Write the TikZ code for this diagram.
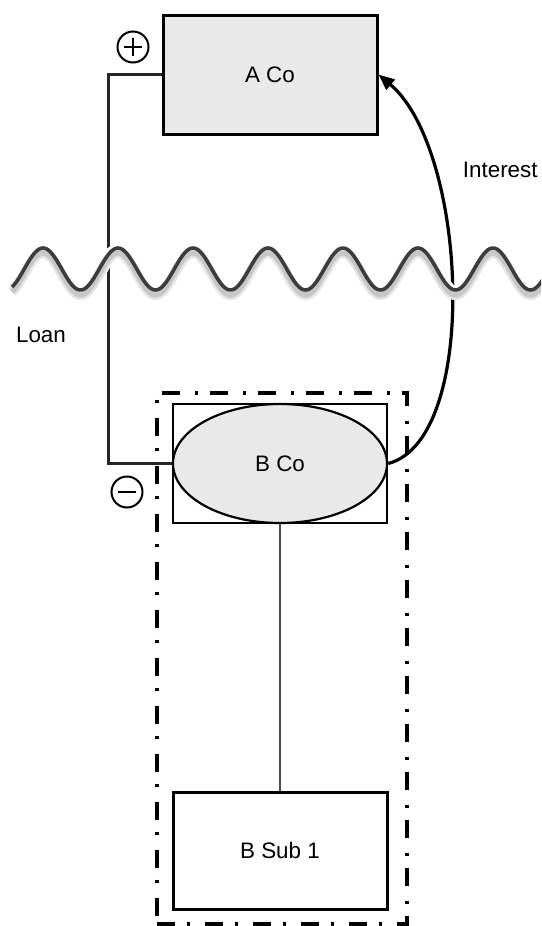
\documentclass[tikz,border=0pt]{standalone}
\usepackage{fontspec}
\setmainfont{Liberation Sans}
\usetikzlibrary{arrows.meta,positioning,calc,shapes.geometric}
\definecolor{boxfill}{HTML}{E9E9E9}
\definecolor{wavegray}{HTML}{3C3C3C}

\begin{document}
\begin{tikzpicture}[
  x=0.5pt, y=-0.5pt,
  company/.style={draw, line width=1.5pt, fill=boxfill, minimum width=107pt, minimum height=59.5pt, inner sep=0pt, font=\fontsize{11.2}{13}\selectfont},
  frame/.style={draw, line width=1.3pt, minimum width=107pt, minimum height=59.5pt, inner sep=0pt},
  oval/.style={ellipse, draw, line width=1.1pt, fill=boxfill, minimum width=107pt, minimum height=59.5pt, inner sep=0pt, font=\fontsize{11.2}{13}\selectfont},
  subsidiary/.style={draw, line width=1.5pt, minimum width=107pt, minimum height=58.5pt, inner sep=0pt, font=\fontsize{11.2}{13}\selectfont},
  grouping/.style={draw, line width=2pt, dash pattern=on 9pt off 6pt on 1.5pt off 7.5pt, minimum width=125pt, minimum height=265.5pt, inner sep=0pt},
  tag/.style={font=\fontsize{11.2}{13}\selectfont, inner sep=0pt},
  sign/.style={circle, draw, line width=1pt, minimum size=15.5pt, inner sep=0pt},
  plussign/.style={sign, path picture={\draw[line width=1.3pt] ($(path picture bounding box.center)+(-4.5pt,0)$) -- ++(9pt,0) ($(path picture bounding box.center)+(0,-4.5pt)$) -- ++(0,9pt);}},
  minussign/.style={sign, path picture={\draw[line width=1.3pt] ($(path picture bounding box.center)+(-4.5pt,0)$) -- ++(9pt,0);}},
  wire/.style={draw=black!85, line width=1.1pt},
  stem/.style={draw=black!70, line width=1.2pt},
  flowarrow/.style={-{Triangle[length=8pt,width=6.5pt]}, line width=1.6pt}
]
\useasboundingbox (0,0) rectangle (541,926);
\clip (0,0) rectangle (541,926);

\node[company] (aco) at (270,74.5) {A Co};
\node[frame] (bframe) at (280,463.5) {};
\node[oval] (bco) at (280,463.5) {B Co};
\node[subsidiary] (bsub) at (280,850.5) {B Sub 1};
\node[grouping] (bgroup) at (282,658) {};

\node[plussign] (plus) at (133,47) {};
\node[minussign] (minus) at (127,492) {};
\node[tag] (loan) at (41,335) {Loan};
\node[tag, anchor=east] (interest) at (538,170) {Interest};

\draw[wire] (aco.west) -- ++(-53,0) |- (bframe.west);
\draw[stem] (bframe.south) -- (bsub.north);
\draw[flowarrow] (bco.east) .. controls (480,440) and (468,150) .. (aco.east);

% border line
\draw[white, line width=7pt, yshift=-1.5pt] plot[domain=8:548, samples=240, smooth] (\x,{269-21*sin(4.8*(\x-24.25))});
\draw[black!10, line width=5pt, yshift=-2.5pt] plot[domain=12:548, samples=240, smooth] (\x,{269-21*sin(4.8*(\x-24.25))});
\draw[black!22, line width=2.6pt, yshift=-2.5pt] plot[domain=12:548, samples=240, smooth] (\x,{269-21*sin(4.8*(\x-24.25))});
\draw[wavegray, line width=1.8pt] plot[domain=12:548, samples=240, smooth] (\x,{269-21*sin(4.8*(\x-24.25))});
\end{tikzpicture}
\end{document}
